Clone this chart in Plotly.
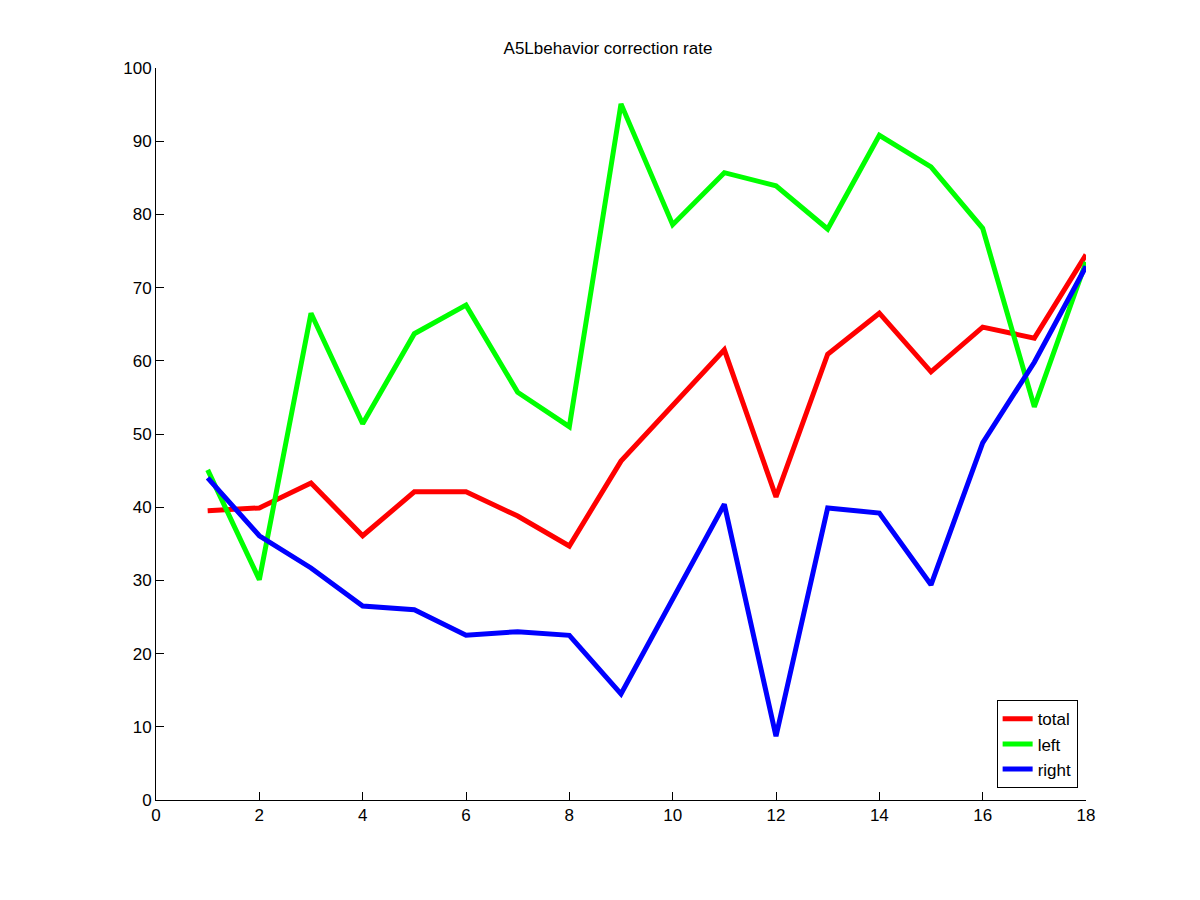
import plotly.graph_objects as go

sessions = list(range(1, 19))
total = [39.5, 39.9, 43.3, 36.1, 42.1, 42.1, 38.8, 34.7, 46.3, 53.8, 61.5, 41.4, 60.9, 66.5, 58.5, 64.6, 63.1, 74.5]
left = [45.1, 30.1, 66.5, 51.4, 63.7, 67.6, 55.7, 51.0, 95.1, 78.6, 85.7, 83.9, 78.0, 90.8, 86.5, 78.1, 53.7, 73.5]
right = [44.0, 36.1, 31.7, 26.5, 26.0, 22.5, 23.0, 22.5, 14.5, 27.3, 40.4, 8.7, 39.9, 39.2, 29.4, 48.8, 59.8, 72.9]

fig = go.Figure()
for name, vals, color in [("total", total, "#ff0000"), ("left", left, "#00ff00"), ("right", right, "#0000ff")]:
    fig.add_trace(go.Scatter(x=sessions, y=vals, mode="lines", name=name,
                             line=dict(color=color, width=5)))

# page body adds an 8px offset, so margins are shifted to compensate
axis = dict(showline=True, linecolor="black", linewidth=1, ticks="inside", ticklen=8,
            tickcolor="black", showgrid=False, zeroline=False, mirror=False)
fig.update_layout(
    width=1200, height=900,
    paper_bgcolor="white", plot_bgcolor="white",
    font=dict(family="Liberation Sans, Arial, sans-serif", size=17, color="black"),
    margin=dict(l=148, r=122, t=60, b=108),
    title=dict(text="A5Lbehavior correction rate", x=0.5, xanchor="center", y=0.955, yanchor="middle",
               font=dict(size=17)),
    xaxis=dict(range=[0, 18], dtick=2, **axis),
    yaxis=dict(range=[0, 100], dtick=10, **axis),
    legend=dict(x=0.991, y=0.016, xanchor="right", yanchor="bottom", bordercolor="black",
                borderwidth=1, bgcolor="white", font=dict(size=17)),
)
fig.write_html("out.html")
